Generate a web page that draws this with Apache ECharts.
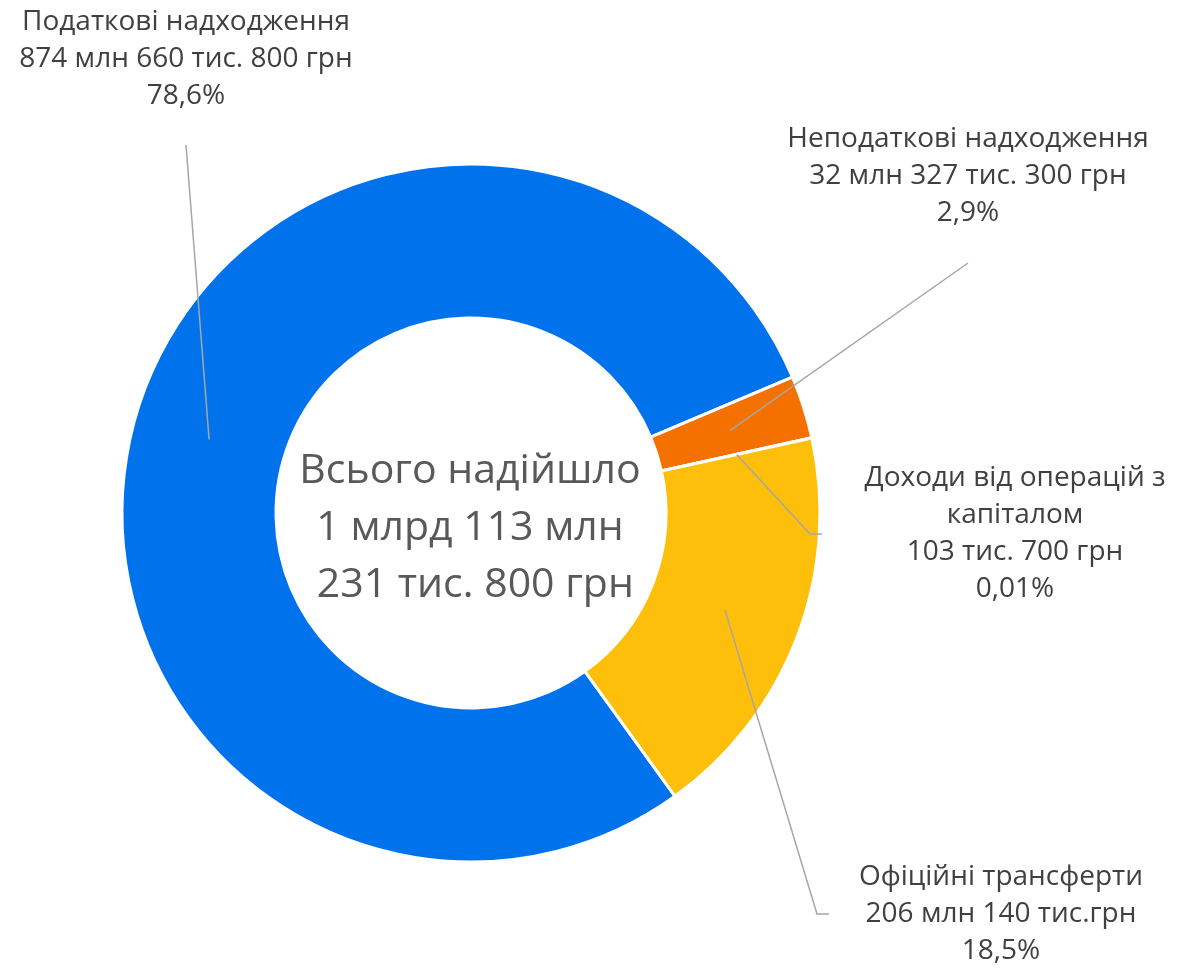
<!DOCTYPE html>
<html><head><meta charset="utf-8">
<script src="https://cdn.jsdelivr.net/npm/echarts@6/dist/echarts.min.js"></script>
<style>html,body{margin:0;padding:0;background:#fff}#c{width:1191px;height:969px}</style>
</head><body><div id="c"></div>
<script>
// Data (values in thousands of UAH)
const categories = ['Податкові надходження', 'Неподаткові надходження', 'Доходи від операцій з\nкапіталом', 'Офіційні трансферти'];
const valuesThousandUAH = [874660.8, 32327.3, 103.7, 206140.0];
const amountLabels = ['874 млн 660 тис. 800 грн', '32 млн 327 тис. 300 грн', '103 тис. 700 грн', '206 млн 140 тис.грн'];
const percentLabels = ['78,6%', '2,9%', '0,01%', '18,5%'];
const centerLines = ['Всього надійшло', '1 млрд 113 млн', ' 231 тис. 800 грн'];
const sliceColors = ['#0073EC', '#F47100', '#A5A5A5', '#FDBF0A'];

// Layout (label anchor positions and leader-line ends relative to label)
const CENTER = [471, 513];
const RADII = [195, 349];
const MID_R = (RADII[0] + RADII[1]) / 2;
const START_ANGLE = 305.75;
const labelPlacement = [
  { x: 186, y: 59, tail: [[0, 86]] },
  { x: 968, y: 176, tail: [[0, 87]] },
  { x: 1015, y: 534, tail: [[-205, 0], [-193, 0]] },
  { x: 1001, y: 914, tail: [[-184, 0], [-172, 0]] }
];

const chart = echarts.init(document.getElementById('c'), null, { renderer: 'canvas' });
const ringData = categories.map((name, i) => ({ name, value: valuesThousandUAH[i], itemStyle: { color: sliceColors[i] } }));
const anchorData = categories.map((name, i) => ({ name, value: valuesThousandUAH[i] }));
const FONT = '"Open Sans", sans-serif';

chart.setOption({
  animation: false,
  backgroundColor: '#ffffff',
  graphic: [{
    type: 'text', x: 470, y: 528, silent: true,
    style: {
      text: centerLines.join('\n'), fill: '#595959',
      fontSize: 41, fontFamily: FONT, lineHeight: 57,
      align: 'center', verticalAlign: 'middle', textAlign: 'center', textVerticalAlign: 'middle'
    }
  }],
  series: [{
    type: 'pie',
    z: 2,
    center: CENTER,
    radius: RADII,
    startAngle: START_ANGLE,
    clockwise: true,
    avoidLabelOverlap: false,
    emphasis: { disabled: true },
    itemStyle: { borderColor: '#ffffff', borderWidth: 3 },
    label: { show: false },
    labelLine: { show: false },
    data: ringData
  }, {
    // transparent helper pie at mid-radius: carries labels + leader lines drawn above the ring
    type: 'pie',
    z: 5,
    silent: true,
    center: CENTER,
    radius: [0, MID_R],
    startAngle: START_ANGLE,
    clockwise: true,
    avoidLabelOverlap: false,
    emphasis: { disabled: true },
    itemStyle: { color: 'rgba(0,0,0,0)', borderWidth: 0 },
    data: anchorData,
    label: {
      show: true, position: 'outside', alignTo: 'none',
      color: '#404040', fontSize: 28, fontFamily: FONT, lineHeight: 37,
      formatter: p => p.name + '\n' + amountLabels[p.dataIndex] + '\n' + percentLabels[p.dataIndex]
    },
    labelLine: { show: true, length: 10, length2: 10, smooth: false, lineStyle: { color: '#A6A6A6', width: 1.5 } },
    labelLayout: function (params) {
      const pl = labelPlacement[params.dataIndex];
      const p0 = (params.labelLinePoints && params.labelLinePoints[0]) || CENTER;
      const pts = [p0].concat(pl.tail.map(t => [pl.x + t[0], pl.y + t[1]]));
      return { x: pl.x, y: pl.y, align: 'center', verticalAlign: 'middle', labelLinePoints: pts };
    }
  }]
});
</script></body></html>
